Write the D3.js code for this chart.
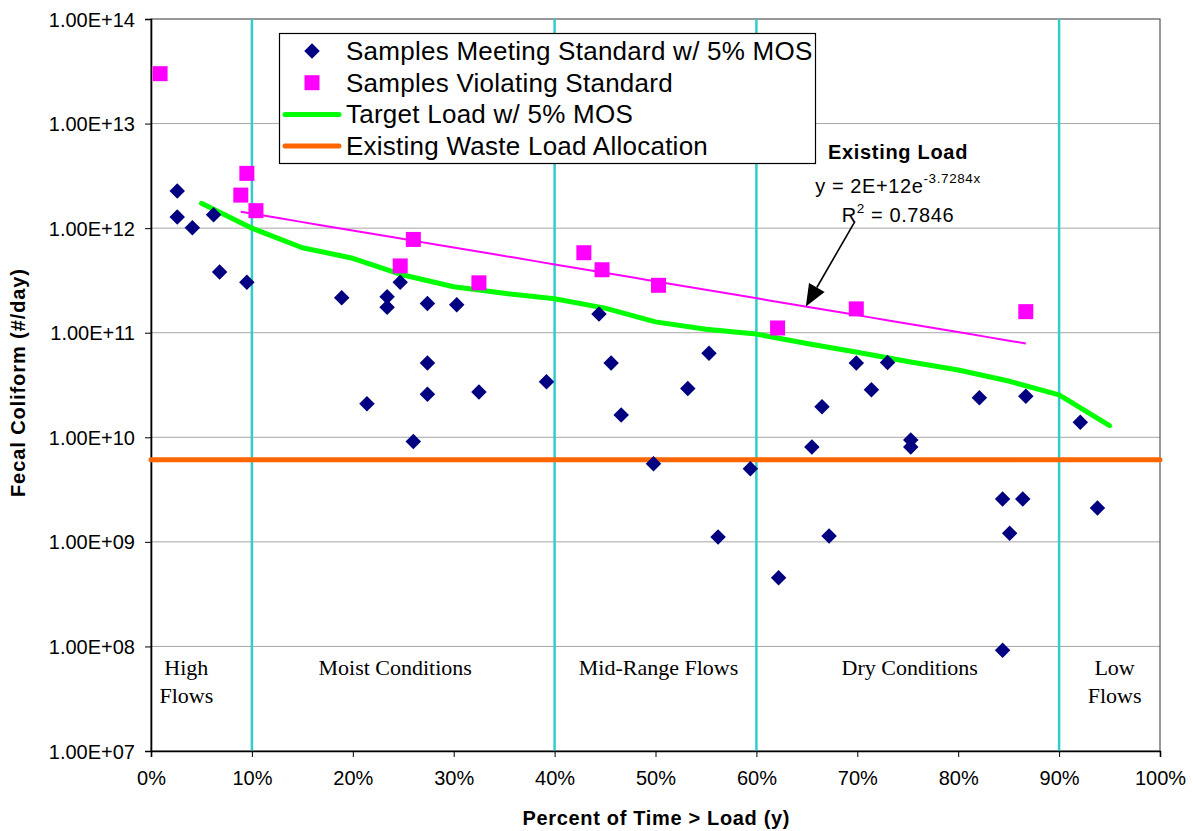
<!DOCTYPE html>
<html>
<head>
<meta charset="utf-8">
<script src="https://cdn.jsdelivr.net/npm/d3@7"></script>
<style>
  html, body { margin: 0; padding: 0; background: #fff; }
  svg { display: block; }
  text { font-family: "Liberation Sans", Arial, sans-serif; }
</style>
</head>
<body>
<svg id="chart" width="1193" height="831"></svg>
<script>
// Samples meeting the standard (percent of time > load, fecal coliform #/day)
const meetPct = [2.6, 2.6, 4.1, 6.2, 6.8, 9.5, 18.9, 23.4, 23.4, 24.7, 27.4, 30.3, 27.4, 21.4, 27.4, 32.5, 26.0,
  39.2, 45.6, 46.6, 44.4, 49.8, 53.2, 55.3, 56.2, 59.4, 62.2, 65.5, 66.5, 67.2, 69.9, 71.4, 73.0, 75.3, 75.3,
  82.1, 84.4, 86.4, 85.1, 84.4, 86.7, 92.1, 93.8];
const meetLoad = [2.26e12, 1.28e12, 1.01e12, 1.34e12, 3.8e11, 3.03e11, 2.16e11, 2.21e11, 1.75e11, 3.03e11, 1.9e11,
  1.85e11, 5.13e10, 2.09e10, 2.58e10, 2.71e10, 9.1e9, 3.4e10, 5.13e10, 1.63e10, 1.51e11, 5.59e9, 2.92e10, 6.35e10,
  1.11e9, 5.0e9, 4.54e8, 8.07e9, 1.96e10, 1.14e9, 5.13e10, 2.85e10, 5.2e10, 9.4e9, 8.07e9, 2.39e10, 2.57e9, 2.57e9,
  1.21e9, 9.2e7, 2.47e10, 1.39e10, 2.11e9];

// Samples violating the standard
const violPct = [0.9, 8.9, 9.5, 10.4, 26.0, 24.7, 32.5, 42.9, 44.7, 50.3, 62.1, 69.9, 86.7];
const violLoad = [3.0e13, 2.07e12, 3.34e12, 1.47e12, 7.8e11, 4.35e11, 3.0e11, 5.82e11, 4.0e11, 2.84e11, 1.11e11,
  1.69e11, 1.59e11];

// Target load curve with 5% margin of safety
const targetPct = [5, 10, 15, 20, 25, 30, 35, 40, 45, 50, 55, 60, 65, 70, 75, 80, 85, 90, 95];
const targetLoad = [1.73e12, 1.0e12, 6.5e11, 5.15e11, 3.56e11, 2.75e11, 2.38e11, 2.11e11, 1.72e11, 1.27e11, 1.08e11,
  9.7e10, 7.9e10, 6.5e10, 5.3e10, 4.4e10, 3.45e10, 2.54e10, 1.29e10];

// Existing waste load allocation (constant)
const wlaLoad = 6.1e9;

// Exponential trendline of violating samples: y = a * e^(b x)
const trendA = 2e12, trendB = -3.7284;
const trendRange = [0.089, 0.867];

// Flow zone boundaries and labels
const zoneBounds = [10, 40, 60, 90];
const zoneLabels = [
  { lines: ["High", "Flows"], pct: 3.5 },
  { lines: ["Moist Conditions"], pct: 24.2 },
  { lines: ["Mid-Range Flows"], pct: 50.3 },
  { lines: ["Dry Conditions"], pct: 75.2 },
  { lines: ["Low", "Flows"], pct: 95.5 }
];

const yTicks = [1e7, 1e8, 1e9, 1e10, 1e11, 1e12, 1e13, 1e14];
const xTicks = [0, 10, 20, 30, 40, 50, 60, 70, 80, 90, 100];

const legendItems = [
  { label: "Samples Meeting Standard w/ 5% MOS", type: "diamond" },
  { label: "Samples Violating Standard", type: "square" },
  { label: "Target Load w/ 5% MOS", type: "green" },
  { label: "Existing Waste Load Allocation", type: "orange" }
];

const C = {
  navy: "#000080", magenta: "#FF00FF", green: "#00FF00", orange: "#FF6600",
  cyan: "#33CCCC", grid: "#A6A6A6"
};

const L = 151, R = 1160, T = 19, B = 751;
const svg = d3.select("#chart");
const x = d3.scaleLinear().domain([0, 100]).range([L, R]);
const y = d3.scaleLog().domain([1e7, 1e14]).range([B, T]);

const fmtExp = v => {
  const e = Math.round(Math.log10(v));
  return "1.00E+" + String(e).padStart(2, "0");
};

// horizontal gridlines
svg.append("g").selectAll("line").data(yTicks.slice(1, -1)).join("line")
  .attr("x1", L).attr("x2", R).attr("y1", d => y(d)).attr("y2", d => y(d))
  .attr("stroke", C.grid).attr("stroke-width", 1);

// plot frame
svg.append("rect").attr("x", L).attr("y", T).attr("width", R - L).attr("height", B - T)
  .attr("fill", "none").attr("stroke", "#555").attr("stroke-width", 1.2);

// zone boundary lines
svg.append("g").selectAll("line").data(zoneBounds).join("line")
  .attr("x1", d => x(d)).attr("x2", d => x(d)).attr("y1", T).attr("y2", B)
  .attr("stroke", C.cyan).attr("stroke-width", 2.5);

// axes
const yAxis = d3.axisLeft(y).tickValues(yTicks).tickFormat(fmtExp).tickSize(6).tickPadding(10);
const gy = svg.append("g").attr("transform", `translate(${L},0)`).call(yAxis);
const xAxis = d3.axisBottom(x).tickValues(xTicks).tickFormat(d => d + "%").tickSize(6).tickPadding(14);
const gx = svg.append("g").attr("transform", `translate(0,${B})`).call(xAxis);
[gx, gy].forEach(g => {
  g.select(".domain").attr("stroke", "#000").attr("stroke-width", 1.6);
  g.selectAll(".tick line").attr("stroke", "#000");
  g.selectAll(".tick text").attr("font-size", 20).attr("fill", "#000")
    .attr("font-family", "'Liberation Sans', Arial, sans-serif");
});
gy.selectAll(".tick text").attr("dy", "0.35em");

// zone labels
const zl = svg.append("g").attr("font-size", 22).attr("fill", "#000").attr("text-anchor", "middle");
zoneLabels.forEach(z => {
  z.lines.forEach((t, i) => {
    zl.append("text").attr("x", x(z.pct)).attr("y", 675 + i * 28)
      .style("font-family", "'Liberation Serif', 'Times New Roman', serif").text(t);
  });
});

// existing waste load allocation
svg.append("line").attr("x1", x(0)).attr("x2", x(100)).attr("y1", y(wlaLoad)).attr("y2", y(wlaLoad))
  .attr("stroke", C.orange).attr("stroke-width", 5).attr("stroke-linecap", "round");

// target load
const targetData = targetPct.map((p, i) => [p, targetLoad[i]]);
svg.append("path").datum(targetData)
  .attr("d", d3.line().x(d => x(d[0])).y(d => y(d[1])))
  .attr("fill", "none").attr("stroke", C.green).attr("stroke-width", 5)
  .attr("stroke-linecap", "round").attr("stroke-linejoin", "round");

// trendline
const trend = f => trendA * Math.exp(trendB * f);
const trendData = d3.range(0, 41).map(i => {
  const f = trendRange[0] + (trendRange[1] - trendRange[0]) * i / 40;
  return [f * 100, trend(f)];
});
svg.append("path").datum(trendData)
  .attr("d", d3.line().x(d => x(d[0])).y(d => y(d[1])))
  .attr("fill", "none").attr("stroke", C.magenta).attr("stroke-width", 2);

// markers
const diamond = d3.symbol().type(d3.symbolSquare).size(120);
svg.append("g").selectAll("path").data(meetPct.map((p, i) => [p, meetLoad[i]])).join("path")
  .attr("d", diamond)
  .attr("transform", d => `translate(${x(d[0])},${y(d[1])}) rotate(45)`)
  .attr("fill", C.navy);

svg.append("g").selectAll("rect").data(violPct.map((p, i) => [p, violLoad[i]])).join("rect")
  .attr("x", d => x(d[0]) - 7.5).attr("y", d => y(d[1]) - 7.5)
  .attr("width", 15).attr("height", 15).attr("fill", C.magenta);

// legend
const lg = svg.append("g");
lg.append("rect").attr("x", 279.5).attr("y", 33.5).attr("width", 536).attr("height", 130)
  .attr("fill", "#fff").attr("stroke", "#000").attr("stroke-width", 1.2);
legendItems.forEach((it, i) => {
  const cy = 51 + i * 31.7;
  if (it.type === "diamond") {
    lg.append("path").attr("d", diamond).attr("transform", `translate(312,${cy}) rotate(45)`).attr("fill", C.navy);
  } else if (it.type === "square") {
    lg.append("rect").attr("x", 304.5).attr("y", cy - 7.5).attr("width", 15).attr("height", 15).attr("fill", C.magenta);
  } else {
    lg.append("line").attr("x1", 285).attr("x2", 339).attr("y1", cy).attr("y2", cy)
      .attr("stroke", it.type === "green" ? C.green : C.orange).attr("stroke-width", 5).attr("stroke-linecap", "round");
  }
  lg.append("text").attr("x", 346).attr("y", cy + 9).attr("font-size", 26)
    .attr("letter-spacing", 0.25).attr("fill", "#000").text(it.label);
});

// trendline annotation
const ann = svg.append("g").attr("fill", "#000").attr("text-anchor", "middle");
ann.append("text").attr("x", 898).attr("y", 159).attr("font-size", 20).attr("letter-spacing", 0.7)
  .attr("font-weight", "bold").text("Existing Load");
const eq = ann.append("text").attr("x", 898).attr("y", 193).attr("font-size", 20).attr("letter-spacing", 0.6);
eq.append("tspan").text("y = 2E+12e");
eq.append("tspan").attr("dy", -10).attr("font-size", 13.5).text("-3.7284x");
const r2 = ann.append("text").attr("x", 898).attr("y", 222).attr("font-size", 20).attr("letter-spacing", 0.6);
r2.append("tspan").text("R");
r2.append("tspan").attr("dy", -9).attr("font-size", 13.5).text("2");
r2.append("tspan").attr("dy", 9).text(" = 0.7846");

// arrow pointing at the trendline
const tipF = 0.649;
const tip = [x(tipF * 100), y(trend(tipF))];
const tail = [tip[0] + 49, tip[1] - 85];
const ang = Math.atan2(tip[1] - tail[1], tip[0] - tail[0]);
const hl = 22, hw = 9;
const base = [tip[0] - hl * Math.cos(ang), tip[1] - hl * Math.sin(ang)];
svg.append("line").attr("x1", tail[0]).attr("y1", tail[1]).attr("x2", base[0]).attr("y2", base[1])
  .attr("stroke", "#000").attr("stroke-width", 1.6);
svg.append("polygon").attr("points", [
  tip,
  [base[0] + hw * Math.sin(ang), base[1] - hw * Math.cos(ang)],
  [base[0] - hw * Math.sin(ang), base[1] + hw * Math.cos(ang)]
].map(p => p.join(",")).join(" ")).attr("fill", "#000");

// axis titles
svg.append("text").attr("x", 656).attr("y", 825).attr("text-anchor", "middle")
  .attr("font-size", 20).attr("font-weight", "bold")
  .attr("textLength", 267).attr("lengthAdjust", "spacing").text("Percent of Time > Load (y)");
svg.append("text").attr("transform", `translate(25,383) rotate(-90)`).attr("text-anchor", "middle")
  .attr("font-size", 20).attr("font-weight", "bold")
  .attr("textLength", 228).attr("lengthAdjust", "spacing").text("Fecal Coliform (#/day)");
</script>
</body>
</html>
